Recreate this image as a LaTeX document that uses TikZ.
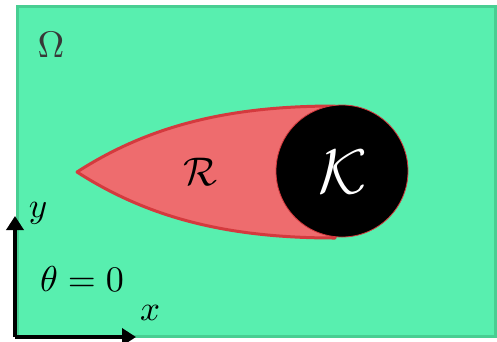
\documentclass[tikz,border=0pt]{standalone}
\usepackage{graphicx}
\usetikzlibrary{arrows.meta}
\definecolor{bgfill}{RGB}{88,239,175}
\definecolor{bgedge}{RGB}{72,206,146}
\definecolor{regfill}{RGB}{238,108,110}
\definecolor{regedge}{RGB}{212,58,62}
\definecolor{omegacol}{RGB}{55,55,55}
\tikzset{
  omegabox/.style={fill=bgfill,draw=bgedge,line width=3pt},
  region/.style={fill=regfill,draw=regedge,line width=3pt,line join=round},
  obstacle/.style={circle,fill=black,draw=regedge,line width=0.8pt,minimum size=132pt,inner sep=0pt},
  axis/.style={line width=3.5pt,-{Triangle[length=14pt,width=17pt]}},
  lbl/.style={inner sep=0pt}
}
\begin{document}
\begin{tikzpicture}[x=1pt,y=-1pt]
\useasboundingbox (0,0) rectangle (497,341);
\draw[omegabox] (17,6) rectangle (495,336);
\node[lbl,text=omegacol] (omega) at (51,45) {\scalebox{3.7}{$\Omega$}};
\draw[region] (77,172) .. controls (150,125) and (230,106) .. (335,106)
  -- (335,238) .. controls (230,238) and (150,219) .. cycle;
\node[obstacle] (K) at (342,171) {};
\node[lbl,text=white] at (343,172) {\scalebox{6.3}{$\mathcal{K}$}};
\node[lbl] (R) at (200,172) {\scalebox{4}{$\mathcal{R}$}};
\coordinate (O) at (15,337);
\coordinate (Y) at (15,216);
\coordinate (X) at (136,337);
\draw[axis] (O) -- (Y);
\draw[axis] (O) -- (X);
\node[lbl] (ylab) at (38,213) {\scalebox{3.5}{$y$}};
\node[lbl] (xlab) at (150,313) {\scalebox{3.5}{$x$}};
\node[lbl] (theta) at (82,279) {\scalebox{3.6}{$\theta=0$}};
\end{tikzpicture}
\end{document}
